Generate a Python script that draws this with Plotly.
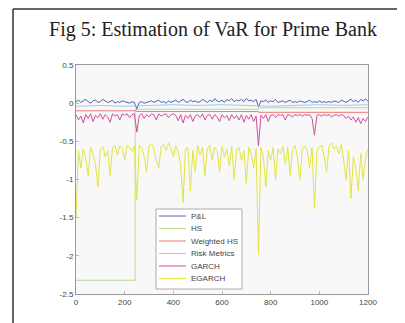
import plotly.graph_objects as go

x_step = list(range(0, 1201, 10))

egarch = [-1.50, -0.62, -0.85, -0.60, -0.72, -0.95, -0.58, -0.66, -0.80, -1.10,
          -0.60, -0.57, -0.70, -0.62, -0.95, -0.58, -0.55, -0.68, -0.56, -0.60,
          -0.75, -0.55, -0.58, -0.63, -0.56, -1.27, -0.55, -0.58, -0.70, -0.90,
          -0.56, -0.53, -0.60, -0.75, -0.85, -0.57, -0.54, -0.62, -0.52, -0.58,
          -0.70, -0.56, -0.64, -0.80, -1.30, -0.60, -0.58, -1.15, -0.62, -0.90,
          -0.55, -0.68, -0.58, -0.95, -0.60, -0.55, -0.75, -0.58, -0.62, -0.90,
          -0.56, -0.70, -0.60, -0.82, -0.56, -1.00, -0.60, -0.58, -0.75, -0.62,
          -1.05, -0.58, -0.66, -0.85, -0.60, -1.98, -0.58, -0.70, -1.10, -0.62,
          -0.75, -0.58, -1.00, -0.60, -0.66, -0.56, -0.80, -0.58, -0.95, -0.60,
          -0.55, -0.72, -1.00, -0.60, -0.56, -0.62, -0.85, -0.58, -1.38, -0.62,
          -0.58, -0.55, -0.70, -0.90, -0.56, -0.52, -0.60, -0.56, -0.66, -0.54,
          -0.75, -1.00, -0.62, -1.25, -0.70, -0.85, -1.15, -0.66, -1.00, -0.72,
          -0.60]

pnl = [0.02, 0.04, 0.01, 0.03, 0.05, 0.02, 0.00, 0.03, 0.04, 0.01,
       0.02, 0.05, 0.03, 0.01, 0.02, 0.04, 0.00, 0.02, 0.01, 0.03,
       0.02, 0.01, 0.00, 0.02, 0.01, -0.08, 0.01, 0.02, 0.00, 0.01,
       0.02, 0.03, 0.01, 0.02, 0.04, 0.01, 0.02, 0.00, 0.03, 0.01,
       0.02, 0.04, 0.01, 0.03, 0.05, 0.02, 0.01, 0.04, 0.02, 0.03,
       0.01, 0.02, 0.05, 0.03, 0.01, 0.04, 0.02, 0.06, 0.03, 0.02,
       0.04, 0.01, 0.05, 0.03, 0.06, 0.02, 0.04, 0.03, 0.05, 0.02,
       0.06, 0.03, 0.04, 0.02, 0.05, -0.05, 0.03, 0.02, 0.04, 0.01,
       0.03, 0.02, 0.05, 0.01, 0.02, 0.03, 0.01, 0.02, 0.04, 0.01,
       0.02, 0.01, 0.03, 0.02, 0.01, 0.02, 0.04, 0.01, 0.02, 0.01,
       0.03, 0.01, 0.02, 0.01, 0.02, 0.01, 0.03, 0.02, 0.01, 0.04,
       0.02, 0.01, 0.03, 0.05, 0.02, 0.04, 0.01, 0.05, 0.03, 0.06,
       0.02]

garch = [-0.15, -0.22, -0.17, -0.26, -0.15, -0.20, -0.14, -0.24, -0.16, -0.19,
         -0.14, -0.21, -0.15, -0.18, -0.25, -0.14, -0.17, -0.15, -0.22, -0.14,
         -0.16, -0.14, -0.19, -0.15, -0.14, -0.38, -0.16, -0.14, -0.20, -0.15,
         -0.18, -0.14, -0.15, -0.22, -0.14, -0.17, -0.15, -0.14, -0.19, -0.15,
         -0.14, -0.16, -0.23, -0.15, -0.26, -0.16, -0.20, -0.15, -0.24, -0.17,
         -0.15, -0.19, -0.14, -0.22, -0.16, -0.15, -0.21, -0.15, -0.18, -0.24,
         -0.15, -0.19, -0.16, -0.23, -0.15, -0.20, -0.16, -0.22, -0.15, -0.25,
         -0.16, -0.21, -0.15, -0.24, -0.17, -0.56, -0.16, -0.20, -0.15, -0.24,
         -0.16, -0.15, -0.19, -0.15, -0.16, -0.15, -0.22, -0.15, -0.16, -0.18,
         -0.15, -0.16, -0.15, -0.17, -0.15, -0.16, -0.15, -0.20, -0.42, -0.16,
         -0.15, -0.17, -0.15, -0.16, -0.15, -0.18, -0.16, -0.15, -0.17, -0.15,
         -0.16, -0.20, -0.17, -0.22, -0.18, -0.25, -0.19, -0.27, -0.20, -0.24,
         -0.18]

hs_x = [0, 243, 750, 1200]
hs_y = [-2.32, -0.08, -0.06, -0.06]

whs_x = [0, 250, 750, 1200]
whs_y = [-0.10, -0.11, -0.12, -0.12]

rm_x = [0, 100, 200, 300, 400, 500, 600, 700, 800, 900, 1000, 1100, 1200]
rm_y = [-0.04, -0.03, -0.04, -0.03, -0.02, -0.03, -0.02, -0.03, -0.04, -0.03, -0.02, -0.03, -0.02]

series_names = ["P&L", "HS", "Weighted HS", "Risk Metrics", "GARCH", "EGARCH"]
series_colors = ["#5a5ab8", "#b8dc90", "#f07878", "#90d4e8", "#d050a0", "#e4e444"]

x_ticks = [0, 200, 400, 600, 800, 1000, 1200]
y_ticks = [0.5, 0, -0.5, -1, -1.5, -2, -2.5]
y_tick_text = ["0.5", "0", "-0.5", "-1", "-1.5", "-2", "-2.5"]

fig = go.Figure()
fig.add_trace(go.Scatter(x=x_step, y=pnl, name=series_names[0], mode="lines",
                         line=dict(color=series_colors[0], width=1)))
fig.add_trace(go.Scatter(x=hs_x, y=hs_y, name=series_names[1], mode="lines", line_shape="hv",
                         line=dict(color=series_colors[1], width=1)))
fig.add_trace(go.Scatter(x=whs_x, y=whs_y, name=series_names[2], mode="lines", line_shape="hv",
                         line=dict(color=series_colors[2], width=1)))
fig.add_trace(go.Scatter(x=rm_x, y=rm_y, name=series_names[3], mode="lines",
                         line=dict(color=series_colors[3], width=1)))
fig.add_trace(go.Scatter(x=x_step, y=garch, name=series_names[4], mode="lines",
                         line=dict(color=series_colors[4], width=1)))
fig.add_trace(go.Scatter(x=x_step, y=egarch, name=series_names[5], mode="lines",
                         line=dict(color=series_colors[5], width=1)))

# page body has an 8px margin, so the figure starts at screen (8, 8)
OFF = 8
W, H = 405 - OFF, 323 - OFF
L, R, T, B = 76 - OFF, 405 - 368, 65 - OFF, 323 - 294
pw, ph = W - L - R, H - T - B

def fx(sx):
    return (sx - OFF - L) / pw

def fy(sy):
    return (H - B - (sy - OFF)) / ph

shapes = [
    dict(type="line", xref="paper", yref="paper", x0=fx(13), x1=fx(420),
         y0=fy(9), y1=fy(9), line=dict(color="#333", width=1.5)),
    dict(type="line", xref="paper", yref="paper", x0=fx(13), x1=fx(13),
         y0=fy(9), y1=fy(340), line=dict(color="#333", width=1.5)),
    dict(type="rect", xref="paper", yref="paper", x0=fx(156), x1=fx(242),
         y0=fy(289), y1=fy(209), fillcolor="white", line=dict(color="#aaa", width=1),
         layer="above"),
]
annotations = []
entry_y = [216, 228.5, 241, 253.5, 266, 278.5]
for name, color, ey in zip(series_names, series_colors, entry_y):
    shapes.append(dict(type="line", xref="paper", yref="paper", x0=fx(159), x1=fx(186),
                       y0=fy(ey), y1=fy(ey), line=dict(color=color, width=1), layer="above"))
    annotations.append(dict(text=name, xref="paper", yref="paper", x=fx(189), y=fy(ey),
                            xanchor="left", yanchor="middle", showarrow=False,
                            font=dict(family="Liberation Sans", size=8, color="#444")))

fig.update_layout(
    width=W, height=H,
    margin=dict(l=L, r=R, t=T, b=B, autoexpand=False),
    paper_bgcolor="white",
    plot_bgcolor="#f8f8f8",
    title=dict(text="Fig 5: Estimation of VaR for Prime Bank",
               font=dict(family="Liberation Serif", size=20, color="#222"),
               xref="container", x=(213 - OFF) / W, xanchor="center",
               yref="container", y=1 - (29 - OFF) / H, yanchor="middle"),
    showlegend=False,
    shapes=shapes,
    annotations=annotations,
)
fig.update_xaxes(range=[0, 1200], tickvals=x_ticks,
                 showgrid=False, zeroline=False, showline=True, linecolor="#999",
                 mirror=True, ticks="inside", ticklen=3, tickcolor="#bbb",
                 tickfont=dict(family="Liberation Sans", size=8, color="#444"))
fig.update_yaxes(range=[-2.5, 0.5], tickvals=y_ticks, ticktext=y_tick_text,
                 showgrid=False, zeroline=False, showline=True, linecolor="#999",
                 mirror=True, ticks="inside", ticklen=3, tickcolor="#bbb",
                 tickfont=dict(family="Liberation Sans", size=8, color="#444"))

fig.write_html("out.html")
